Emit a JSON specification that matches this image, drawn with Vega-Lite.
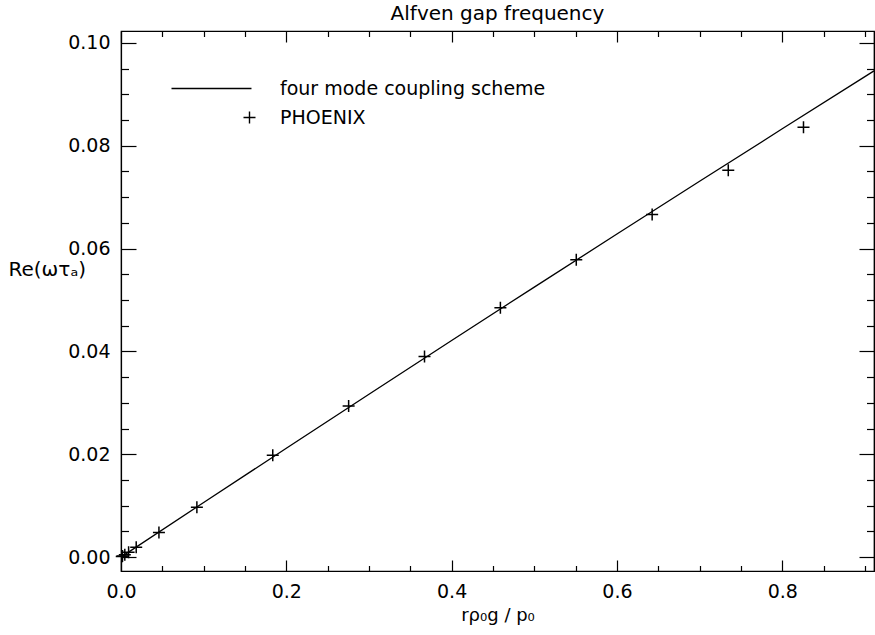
{
  "$schema": "https://vega.github.io/schema/vega-lite/v6.json",
  "width": 753,
  "height": 540,
  "autosize": {"type": "none"},
  "padding": {"left": 121, "top": 31, "right": 1, "bottom": 64},
  "background": "white",
  "title": {"text": "Alfven gap frequency", "font": "DejaVu Sans", "fontSize": 20, "fontWeight": "normal", "color": "black", "anchor": "middle", "frame": "group", "offset": 6},
  "config": {
    "font": "DejaVu Sans",
    "view": {"stroke": "black", "strokeWidth": 1.2},
    "axis": {"grid": false, "domainColor": "black", "domainWidth": 1.2, "tickColor": "black", "tickWidth": 1.2, "labelColor": "black", "labelFont": "DejaVu Sans", "labelFontSize": 19, "titleColor": "black", "titleFont": "DejaVu Sans", "titleFontSize": 19, "titleFontWeight": "normal", "labelFlush": false, "labelOverlap": false}
  },
  "datasets": {
    "curve": [
      {"x": 0, "y": 0, "series": "four mode coupling scheme"},
      {"x": 0.1, "y": 0.01062, "series": "four mode coupling scheme"},
      {"x": 0.2, "y": 0.02118, "series": "four mode coupling scheme"},
      {"x": 0.3, "y": 0.03168, "series": "four mode coupling scheme"},
      {"x": 0.4, "y": 0.04212, "series": "four mode coupling scheme"},
      {"x": 0.5, "y": 0.0525, "series": "four mode coupling scheme"},
      {"x": 0.6, "y": 0.06282, "series": "four mode coupling scheme"},
      {"x": 0.7, "y": 0.07308, "series": "four mode coupling scheme"},
      {"x": 0.8, "y": 0.08328, "series": "four mode coupling scheme"},
      {"x": 0.9, "y": 0.09342, "series": "four mode coupling scheme"},
      {"x": 0.911, "y": 0.09455, "series": "four mode coupling scheme"}
    ],
    "phoenix": [
      {"x": 0.0009, "y": 0.0001, "series": "PHOENIX"},
      {"x": 0.0018, "y": 0.0002, "series": "PHOENIX"},
      {"x": 0.0046, "y": 0.00048, "series": "PHOENIX"},
      {"x": 0.0092, "y": 0.00097, "series": "PHOENIX"},
      {"x": 0.0184, "y": 0.0019, "series": "PHOENIX"},
      {"x": 0.0459, "y": 0.0048, "series": "PHOENIX"},
      {"x": 0.0918, "y": 0.0097, "series": "PHOENIX"},
      {"x": 0.1836, "y": 0.0198, "series": "PHOENIX"},
      {"x": 0.2754, "y": 0.0294, "series": "PHOENIX"},
      {"x": 0.3672, "y": 0.039, "series": "PHOENIX"},
      {"x": 0.459, "y": 0.0485, "series": "PHOENIX"},
      {"x": 0.5508, "y": 0.0578, "series": "PHOENIX"},
      {"x": 0.6426, "y": 0.0666, "series": "PHOENIX"},
      {"x": 0.7347, "y": 0.0752, "series": "PHOENIX"},
      {"x": 0.8257, "y": 0.0836, "series": "PHOENIX"}
    ]
  },
  "layer": [
    {
      "data": {"name": "curve"},
      "mark": {"type": "line", "color": "black", "strokeWidth": 1.3},
      "encoding": {
        "x": {"field": "x", "type": "quantitative", "scale": {"domain": [0, 0.911], "nice": false, "zero": false},
          "axis": {"orient": "bottom", "values": [0, 0.05, 0.1, 0.15, 0.2, 0.25, 0.3, 0.35, 0.4, 0.45, 0.5, 0.55, 0.6, 0.65, 0.7, 0.75, 0.8, 0.85, 0.9], "format": ".1f",
            "labelExpr": "abs(datum.value*5 - round(datum.value*5)) < 1e-6 ? datum.label : ''",
            "tickSize": {"condition": {"test": "abs(datum.value*5 - round(datum.value*5)) < 1e-6", "value": -11}, "value": -5.5},
            "labelPadding": 22, "title": "rρ₀g  /  p₀", "titleFontSize": 18, "titlePadding": 0}},
        "y": {"field": "y", "type": "quantitative", "scale": {"domain": [-0.0027, 0.1023], "nice": false, "zero": false},
          "axis": {"orient": "left", "values": [0, 0.005, 0.01, 0.015, 0.02, 0.025, 0.03, 0.035, 0.04, 0.045, 0.05, 0.055, 0.06, 0.065, 0.07, 0.075, 0.08, 0.085, 0.09, 0.095, 0.1], "format": ".2f",
            "labelExpr": "abs(datum.value*50 - round(datum.value*50)) < 1e-6 ? datum.label : ''",
            "tickSize": {"condition": {"test": "abs(datum.value*50 - round(datum.value*50)) < 1e-6", "value": -15}, "value": -7.5},
            "labelPadding": 26, "title": "Re(ωτₐ)", "titleFontSize": 20, "titleAngle": 0, "titleAlign": "left", "titleBaseline": "middle", "titleX": -113, "titleY": 238}}
      }
    },
    {
      "data": {"name": "phoenix"},
      "mark": {"type": "point", "filled": false, "color": "black", "strokeWidth": 1.5, "size": 144, "opacity": 1},
      "encoding": {
        "x": {"field": "x", "type": "quantitative",
          "axis": {"orient": "top", "values": [0, 0.05, 0.1, 0.15, 0.2, 0.25, 0.3, 0.35, 0.4, 0.45, 0.5, 0.55, 0.6, 0.65, 0.7, 0.75, 0.8, 0.85, 0.9], "labels": false, "title": null,
            "tickSize": {"condition": {"test": "abs(datum.value*5 - round(datum.value*5)) < 1e-6", "value": -11}, "value": -5.5}}},
        "y": {"field": "y", "type": "quantitative",
          "axis": {"orient": "right", "values": [0, 0.005, 0.01, 0.015, 0.02, 0.025, 0.03, 0.035, 0.04, 0.045, 0.05, 0.055, 0.06, 0.065, 0.07, 0.075, 0.08, 0.085, 0.09, 0.095, 0.1], "labels": false, "title": null,
            "tickSize": {"condition": {"test": "abs(datum.value*50 - round(datum.value*50)) < 1e-6", "value": -15}, "value": -7.5}}},
        "shape": {"field": "series", "type": "nominal",
          "scale": {"domain": ["four mode coupling scheme", "PHOENIX"], "range": ["M-13,0L0.33,0", "M-1,0L1,0M0,-1L0,1"]},
          "legend": {"orient": "none", "legendX": 119, "legendY": 48, "title": null, "labelFont": "DejaVu Sans", "labelFontSize": 19, "labelColor": "black", "labelOffset": 21, "labelLimit": 600, "symbolSize": 144, "symbolStrokeWidth": 1.4, "symbolStrokeColor": "black", "symbolFillColor": "transparent", "rowPadding": 9}}
      }
    }
  ],
  "resolve": {"axis": {"x": "independent", "y": "independent"}}
}
